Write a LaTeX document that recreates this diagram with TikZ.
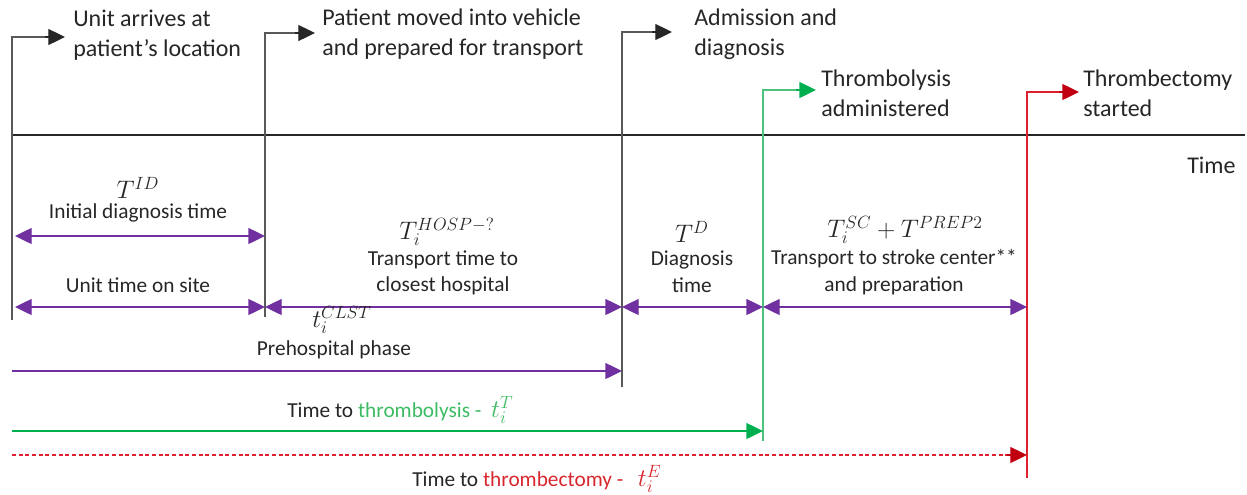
\documentclass[tikz,border=0pt]{standalone}
\usepackage{fix-cm}
\usepackage{fontspec}
\setmainfont{Carlito}
\usetikzlibrary{arrows.meta}
\definecolor{ink}{HTML}{262626}
\definecolor{rulegray}{HTML}{595959}
\definecolor{phasepurple}{HTML}{7030A0}
\definecolor{lysis}{HTML}{00B050}
\definecolor{lysisline}{HTML}{4CC27A}
\definecolor{lysistext}{HTML}{3DBB63}
\definecolor{ectomy}{HTML}{C00010}
\definecolor{ectomyline}{HTML}{E02030}
\definecolor{ectomytext}{HTML}{D8262E}
\begin{document}
\begin{tikzpicture}[x=0.75pt,y=-0.75pt,
  eventlabel/.style={anchor=west,inner sep=0pt,align=left,text=ink,
    font=\fontsize{18}{22.5}\selectfont},
  spanlabel/.style={inner sep=0pt,align=center,text=ink,
    font=\fontsize{16}{20}\selectfont},
  mathlabel/.style={inner sep=0pt,text=ink,font=\fontsize{19}{23}\selectfont},
  marker/.style={rulegray,line width=0.9pt},
  span/.style={phasepurple,line width=1pt,{Triangle[length=12.5pt,width=12pt]}-{Triangle[length=12.5pt,width=12pt]}},
  oneway/.style={line width=1pt,-{Triangle[length=12.5pt,width=12pt]}},
]
\useasboundingbox (0,0) rectangle (1247,494);

% ---- time axis ----
\coordinate (axL) at (12,135);
\coordinate (axR) at (1245,135);
\draw[ink,line width=1.6pt] (axL) -- (axR);
\node[eventlabel] (timelab) at (1187,165) {Time};

% ---- event markers: vertical rule, elbow and arrow to the caption ----
\coordinate (b1) at (12,320);   \coordinate (t1) at (65,37);
\coordinate (b2) at (265,317);  \coordinate (t2) at (315,33);
\coordinate (b3) at (622,387);  \coordinate (t3) at (672,32);
\coordinate (bg) at (763,441);  \coordinate (tg) at (816,90);
\coordinate (br) at (1027,478); \coordinate (tr) at (1079,92);

\draw[marker] (b1) |- ([xshift=-14]t1);
\draw[marker] (b2) |- ([xshift=-14]t2);
\draw[marker] (b3) |- ([xshift=-14]t3);
\draw[oneway,ink,line width=0.9pt] ([xshift=-15]t1) -- (t1);
\draw[oneway,ink,line width=0.9pt] ([xshift=-15]t2) -- (t2);
\draw[oneway,ink,line width=0.9pt] ([xshift=-15]t3) -- (t3);
\draw[lysisline,line width=1pt] (bg) |- ([xshift=-14]tg);
\draw[oneway,lysis] ([xshift=-15]tg) -- (tg);
\draw[ectomyline,line width=1pt] (br) |- ([xshift=-14]tr);
\draw[oneway,ectomy] ([xshift=-15]tr) -- (tr);

\node[eventlabel] (ev1) at (73,35) {Unit arrives at\\patient’s location};
\node[eventlabel] (ev2) at (322,34) {Patient moved into vehicle\\and prepared for transport};
\node[eventlabel] (ev3) at (694,34) {Admission and\\diagnosis};
\node[eventlabel] (ev4) at (821,93) {Thrombolysis\\administered};
\node[eventlabel] (ev5) at (1083,93) {Thrombectomy\\started};

% ---- interval spans ----
\coordinate (r1a) at (15,236);  \coordinate (r1b) at (265,236);
\draw[span] (r1a) -- (r1b);
\node[mathlabel] (idm) at (138,188) {$T^{ID}$};
\node[spanlabel] (idt) at (138,213) {Initial diagnosis time};

\coordinate (s0) at (15,307);
\coordinate (s1) at (265,307);
\coordinate (s2) at (622,307);
\coordinate (s3) at (763,307);
\coordinate (s4) at (1027,307);
\draw[span] (s0) -- (s1);
\draw[span] (s1) -- (s2);
\draw[span] (s2) -- (s3);
\draw[span] (s3) -- (s4);

\node[spanlabel] (site) at (138,285) {Unit time on site};
\node[mathlabel] (hospm) at (447,232) {$T_i^{HOSP-?}$};
\node[spanlabel] (hospt) at (443,273) {Transport time to\\closest hospital};
\node[mathlabel] (diagm) at (692,232) {$T^{D}$};
\node[spanlabel] (diagt) at (692,272) {Diagnosis\\time};
\node[mathlabel] (scm) at (905,230) {$T_i^{SC} + T^{PREP2}$};
\node[spanlabel] (sct) at (894,272) {Transport to stroke center**\\and preparation};

% ---- cumulative times ----
\coordinate (p0) at (12,371);  \coordinate (p1) at (622,371);
\draw[oneway,phasepurple] (p0) -- (p1);
\node[mathlabel] (clstm) at (342,320) {$t_i^{CLST}$};
\node[spanlabel] (clstt) at (334,350) {Prehospital phase};

\coordinate (g0) at (12,431);  \coordinate (g1) at (763,431);
\draw[oneway,lysis] (g0) -- (g1);
\node[spanlabel,anchor=west] (lysislab) at (287,410)
  {Time to \textcolor{lysistext}{thrombolysis -~ {\fontsize{19}{23}\selectfont$t_i^{T}$}}};

\coordinate (e0) at (12,455);  \coordinate (e1) at (1027,455);
\draw[ectomyline,line width=0.9pt,dash pattern=on 3pt off 2pt] (e0) -- ([xshift=-14]e1);
\draw[oneway,ectomy,line width=0.9pt] ([xshift=-15]e1) -- (e1);
\node[spanlabel,anchor=west] (ectomylab) at (412,479)
  {Time to \textcolor{ectomytext}{thrombectomy -~~ {\fontsize{19}{23}\selectfont$t_i^{E}$}}};
\end{tikzpicture}
\end{document}
